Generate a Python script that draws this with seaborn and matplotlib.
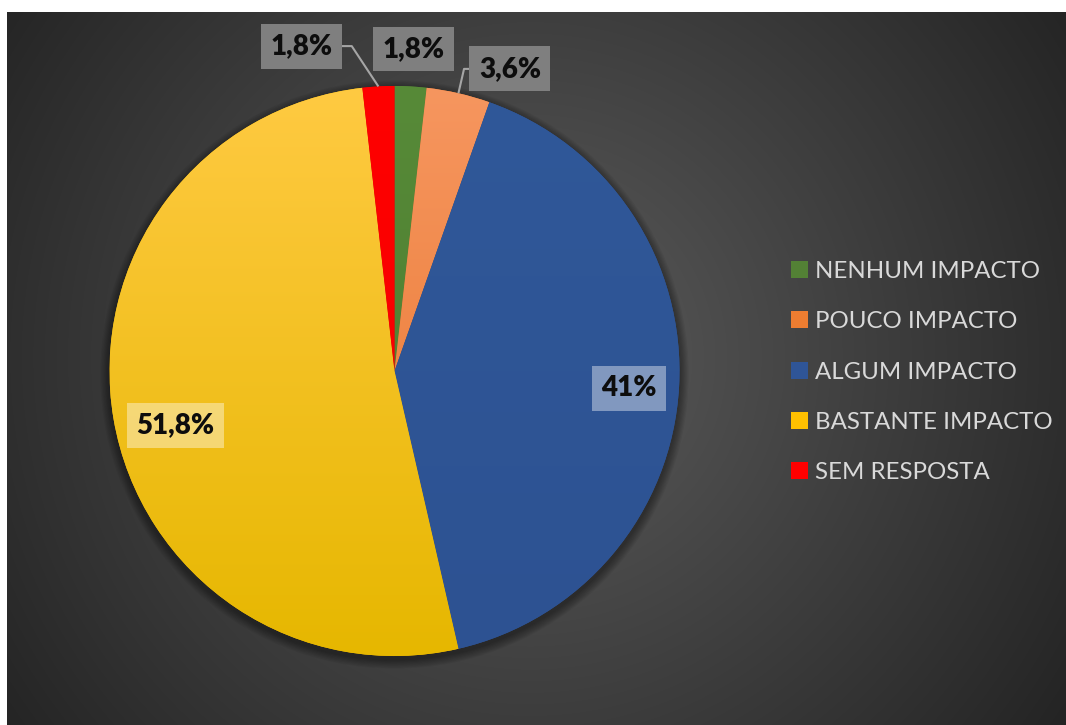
import numpy as np
import matplotlib
matplotlib.use("Agg")
import matplotlib.pyplot as plt
import seaborn as sns
from matplotlib.colors import LinearSegmentedColormap
from matplotlib.patches import Patch, Circle

# ---- data -------------------------------------------------------------
categories = ["NENHUM IMPACTO", "POUCO IMPACTO", "ALGUM IMPACTO",
              "BASTANTE IMPACTO", "SEM RESPOSTA"]
values = [1.8, 3.6, 41.0, 51.8, 1.8]

# ---- style ------------------------------------------------------------
base_colors = ["#538135", "#ED7D31", "#2F5597", "#FFC000", "#FF0000"]
grad_colors = [("#578a38", "#4a7a2f"),
               ("#f6965f", "#e8752c"),
               ("#305899", "#2d5292"),
               ("#ffca42", "#e6b700"),
               ("#ff0000", "#f20000")]
# label box centres (data units, radius = 1) and box style
label_xy = [(0.068, 1.13), (0.405, 1.06), (0.823, -0.06), (-0.77, -0.19), (-0.325, 1.14)]
label_inside = [False, False, True, True, False]

sns.set_theme(style="white")
plt.rcParams["font.family"] = ["Lato", "DejaVu Sans"]

W, H = 1066, 725
fig = plt.figure(figsize=(W / 100, H / 100), dpi=100, facecolor="white")

# dark radial-gradient panel
bw, bh = W - 7, H - 12
bg = fig.add_axes([7 / W, 0, bw / W, bh / H])
yy, xx = np.mgrid[0:bh, 0:bw]
r = np.hypot(xx - 523, yy - 345)
g = np.clip(92 - 0.0865 * r, 30, 100) / 255.0
bg.imshow(np.dstack([g, g, g]), aspect="auto", interpolation="bilinear")
bg.set_axis_off()

# pie axes: centre at (394.5, 371) px, radius 285 px
R = 285.0
span = 1.3
cxp, cyp = 394.5, H - 371
ax = fig.add_axes([(cxp - span * R) / W, (cyp - span * R) / H,
                   2 * span * R / W, 2 * span * R / H])
ax.set_axis_off()

# soft shadow under the pie
for k in range(8):
    ax.add_patch(Circle((0, -0.012), 1 + 0.004 * (k + 1), color="black",
                        alpha=0.05, lw=0, zorder=0))

wedges, _ = ax.pie(values, colors=base_colors, startangle=90, counterclock=False,
                   radius=1, wedgeprops=dict(linewidth=0))

# vertical gradient fill clipped to each wedge
grad = np.linspace(0, 1, 256).reshape(-1, 1)
for w, (top, bot) in zip(wedges, grad_colors):
    cmap = LinearSegmentedColormap.from_list("g", [top, bot])
    im = ax.imshow(grad, cmap=cmap, extent=(-1, 1, -1, 1), origin="upper",
                   aspect="auto", zorder=2, interpolation="bilinear")
    im.set_clip_path(w)

ax.set_xlim(-span, span)
ax.set_ylim(-span, span)
ax.set_aspect("equal")


def fmt(v):
    return f"{v:g}".replace(".", ",") + "%"


for w, v, (lx, ly), inside in zip(wedges, values, label_xy, label_inside):
    if inside:
        box = dict(boxstyle="square,pad=0.34", facecolor="white", alpha=0.4, lw=0)
    else:
        box = dict(boxstyle="square,pad=0.34", facecolor="#7f7f7f", lw=0)
    ax.text(lx, ly, fmt(v), ha="center", va="center", fontsize=20,
            fontweight="heavy", color="#0d0d0d", bbox=box, zorder=5)

# leader lines for the small outer labels that sit away from their slice
for i in (1, 4):
    w = wedges[i]
    mid = np.deg2rad((w.theta1 + w.theta2) / 2)
    ex, ey = np.cos(mid), np.sin(mid)
    lx, ly = label_xy[i]
    half_w = 0.133
    if lx < ex:
        sx = lx + half_w
        hx = sx + 0.042
    else:
        sx = lx - half_w
        hx = sx - 0.028
    ax.plot([sx, hx, ex], [ly, ly, ey], color="#a6a6a6", lw=1.5, zorder=4,
            solid_capstyle="butt")

# legend
handles = [Patch(facecolor=c, edgecolor="none") for c in base_colors]
leg = fig.legend(handles, categories, loc="upper left",
                 bbox_to_anchor=(791 / W, 1 - 261 / H), frameon=False,
                 fontsize=17.3, labelcolor="#d9d9d9", handlelength=0.7,
                 handleheight=0.7, handletextpad=0.3, labelspacing=1.22,
                 borderpad=0, borderaxespad=0)

fig.savefig("out.png", dpi=100, facecolor="white")
